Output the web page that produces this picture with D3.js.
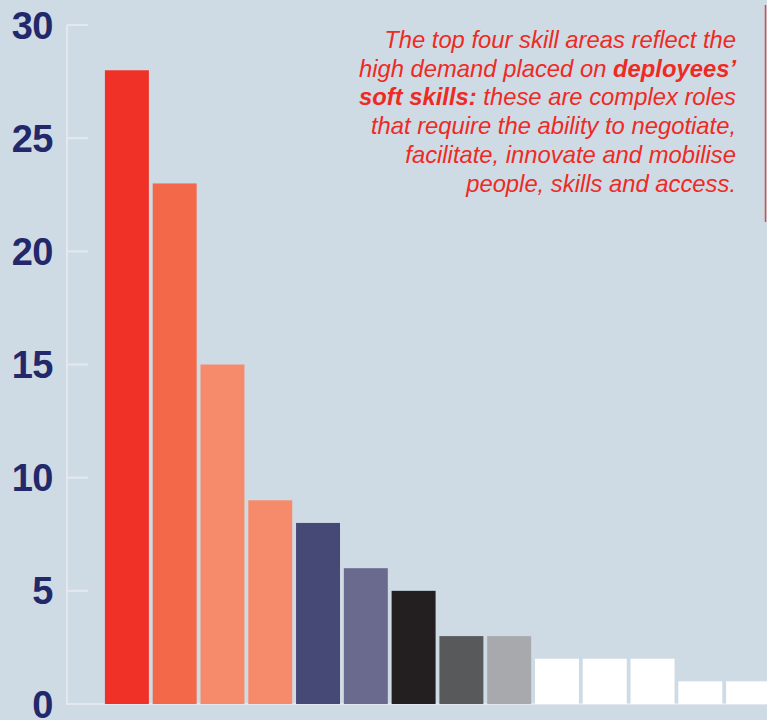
<!DOCTYPE html>
<html lang="en">
<head>
<meta charset="UTF-8">
<title>Skill areas</title>
<script src="https://cdn.jsdelivr.net/npm/d3@7"></script>
<style>
  html, body { margin: 0; padding: 0; background: #cfdbe4; }
  svg { display: block; }
  .tickLabel { font-family: "Liberation Sans", Arial, sans-serif; font-weight: bold; font-size: 38px; fill: #23286b; letter-spacing: -0.5px; }
  .note { font-family: "Liberation Sans", Arial, sans-serif; font-style: italic; font-size: 23.8px; fill: #ee2a24; }
</style>
</head>
<body>
<div id="root"></div>
<script>
  // data
  const categories = ["1","2","3","4","5","6","7","8","9","10","11","12","13","14"]
  const values = [28, 23, 15, 9, 8, 6, 5, 3, 3, 2, 2, 2, 1, 1]
  const barColors = ["#ef3127","#f26849","#f68b6c","#f68b6c","#464876","#6a6a8f","#231f20","#58595b","#a7a9ac","#ffffff","#ffffff","#ffffff","#ffffff","#ffffff"]
  const yTicks = [0, 5, 10, 15, 20, 25, 30]
  const noteLines = [
    [["The top four skill areas reflect the", false]],
    [["high demand placed on ", false], ["deployees\u2019", true]],
    [["soft skills:", true], [" these are complex roles", false]],
    [["that require the ability to negotiate,", false]],
    [["facilitate, innovate and mobilise", false]],
    [["people, skills and access.", false]]
  ]

  const width = 767, height = 720
  const axisX = 67

  const svg = d3.select("#root").append("svg").attr("width", width).attr("height", height)

  const x = d3.scaleBand().domain(categories).range([103, 772]).paddingInner(0.08).paddingOuter(0.04)
  const y = d3.scaleLinear().domain([0, 30]).range([704, 25])

  // axis line + ticks
  const grid = svg.append("g")
  grid.append("line").attr("x1", axisX).attr("x2", axisX).attr("y1", y(30)).attr("y2", y(0))
    .attr("stroke", "#e4e8ee").attr("stroke-width", 2)
  grid.append("line").attr("x1", axisX - 1).attr("x2", width).attr("y1", y(0)).attr("y2", y(0))
    .attr("stroke", "#e4e8ee").attr("stroke-width", 2)
  grid.selectAll("line.tick").data(yTicks.filter(d => d > 0)).enter().append("line")
    .attr("class", "tick")
    .attr("x1", axisX).attr("x2", axisX + 21)
    .attr("y1", d => y(d)).attr("y2", d => y(d))
    .attr("stroke", "#e4e8ee").attr("stroke-width", 2)

  svg.selectAll("text.tickLabel").data(yTicks).enter().append("text")
    .attr("class", "tickLabel")
    .attr("x", 53).attr("y", d => y(d) + 13.5)
    .attr("text-anchor", "end")
    .text(d => d)

  // bars
  svg.append("g").selectAll("rect").data(values).enter().append("rect")
    .attr("x", (d, i) => x(categories[i]))
    .attr("width", x.bandwidth())
    .attr("y", d => y(d))
    .attr("height", d => y(0) - y(d))
    .attr("fill", (d, i) => barColors[i])

  // annotation
  const note = svg.append("text").attr("class", "note").attr("text-anchor", "end")
  noteLines.forEach((parts, i) => {
    const line = note.append("tspan").attr("x", 736).attr("y", 48 + i * 28.7)
    parts.forEach(p => {
      line.append("tspan").attr("font-weight", p[1] ? "bold" : null).text(p[0])
    })
  })
  svg.append("line").attr("x1", 765.5).attr("x2", 765.5).attr("y1", 5).attr("y2", 222)
    .attr("stroke", "#e0473f").attr("stroke-width", 1.5)
</script>
</body>
</html>
